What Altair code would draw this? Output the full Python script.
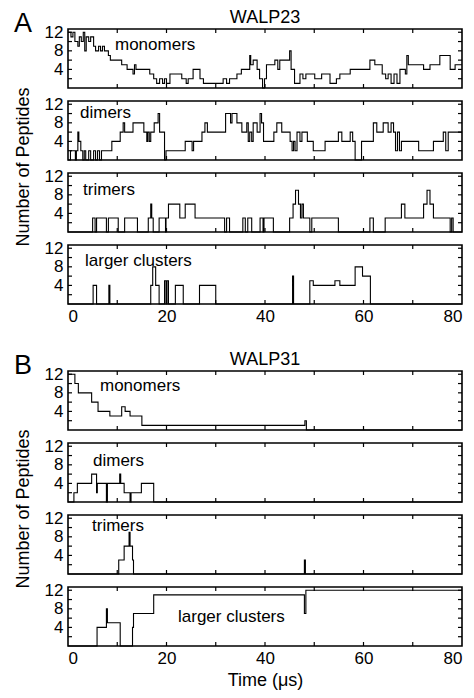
import altair as alt
import pandas as pd

# ---------------- data ----------------
TIME_TICKS = [10, 20, 30, 40, 50, 60, 70]
VALUE_TICKS = [2, 4, 6, 8, 10, 12]
X_LABELS = [0, 20, 40, 60, 80]
Y_LABELS = [4, 8, 12]

# WALP23
A_MONO_T = [0, 0.6, 1.0, 1.4, 2.0, 2.3, 2.7, 3.1, 3.4, 3.7, 4.2, 4.6, 5.2, 5.6, 6.2, 6.6, 7.0, 7.4, 8.2, 8.6,
            10.9, 12.0, 13.2, 13.5, 13.8, 16.6, 17.4, 18.0, 18.6, 19.2, 19.6, 20.0, 20.7, 23.1, 24.0, 24.4,
            25.4, 26.8, 27.5, 31.5, 32.2, 32.8, 34.3, 35.2, 36.9, 37.1, 37.6, 38.4, 38.9, 39.5, 39.9, 40.3,
            42.0, 42.6, 43.0, 45.0, 45.3, 46.0, 47.1, 47.7, 48.3, 50.1, 51.5, 53.2, 54.5, 55.2, 57.3, 61.3,
            62.3, 63.8, 64.5, 65.0, 65.6, 66.2, 66.8, 67.4, 68.5, 68.8, 69.1, 72.2, 73.5, 75.5, 77.6, 78.6, 80]
A_MONO_V = [12, 11, 12, 10, 9, 11, 10, 12, 8, 11, 10, 11, 9, 8, 9, 8, 9, 8, 7, 6,
            5, 4, 3, 5, 4, 3, 2, 1, 2, 1, 2, 1, 3, 2, 1, 2,
            4, 2, 1, 2, 1, 2, 3, 4, 7, 5, 6, 4, 2, 0, 2, 5,
            6, 4, 6, 8, 4, 1, 3, 2, 3, 2, 3, 1, 2, 3, 4, 6,
            5, 3, 2, 3, 1, 3, 1, 4, 3, 7, 5, 4, 5, 7, 4, 5, 5]

A_DIM_T = [0, 0.5, 1.2, 1.5, 1.7, 2.0, 2.2, 2.6, 3.0, 3.3, 3.6, 4.2, 4.6, 5.2, 5.6, 6.0, 6.4, 6.8, 8.9, 10.6,
           11.2, 11.5, 13.2, 15.4, 16.0, 16.2, 16.5, 16.8, 17.5, 18.3, 18.6, 19.6, 19.9, 23.8, 25.2, 25.5,
           27.2, 27.8, 28.3, 32.0, 33.0, 33.3, 34.3, 35.3, 36.3, 36.6, 36.9, 37.3, 37.6, 38.4, 39.0, 39.3,
           39.7, 41.8, 42.4, 43.4, 45.1, 45.5, 45.8, 46.1, 46.5, 47.1, 47.5, 48.6, 49.8, 52.2, 54.9, 55.6,
           57.3, 57.8, 58.3, 59.6, 62.0, 62.7, 64.0, 65.0, 65.6, 66.1, 66.5, 66.9, 67.3, 67.7, 71.2, 74.2,
           76.2, 76.7, 77.2, 80]
A_DIM_V = [0, 2, 2, 0, 2, 6, 4, 2, 0, 2, 0, 2, 0, 2, 0, 2, 0, 2, 4, 6,
           8, 6, 8, 6, 4, 6, 4, 6, 8, 10, 6, 0, 2, 4, 2, 4,
           6, 8, 6, 10, 8, 10, 8, 6, 8, 4, 6, 4, 8, 6, 10, 8,
           4, 6, 8, 6, 4, 2, 4, 2, 6, 4, 6, 4, 2, 4, 6, 4,
           6, 4, 0, 4, 8, 6, 8, 6, 8, 6, 2, 6, 2, 4, 2, 4,
           6, 2, 6, 6]

A_TRI_T = [0, 5.0, 5.5, 5.8, 7.8, 8.2, 10.2, 11.5, 14.1, 16.3, 16.8, 17.0, 17.3, 18.5, 19.8, 19.9, 20.4,
           22.7, 23.8, 25.8, 31.8, 32.2, 32.8, 35.5, 36.0, 36.5, 37.3, 39.0, 39.6, 39.8, 41.7, 45.0, 45.7,
           46.2, 46.8, 47.2, 47.5, 47.8, 49.1, 49.5, 54.9, 61.3, 62.0, 64.4, 67.7, 68.4, 72.2, 72.9, 73.5,
           74.2, 77.6, 77.9, 78.2, 80]
A_TRI_V = [0, 3, 0, 3, 0, 3, 0, 3, 0, 3, 6, 3, 0, 3, 0, 3, 6,
           3, 6, 3, 0, 3, 0, 3, 0, 3, 0, 3, 0, 3, 0, 3, 6,
           9, 6, 3, 6, 3, 0, 3, 0, 3, 0, 3, 6, 3, 6, 9, 6,
           3, 0, 3, 0, 0]

A_LRG_T = [0, 5.1, 5.8, 8.3, 8.5, 16.8, 17.2, 17.8, 18.5, 19.6, 19.9, 20.1, 20.4, 21.8, 23.4, 26.7, 30.0,
           45.6, 45.8, 49.1, 49.8, 54.2, 55.2, 58.3, 59.8, 61.4, 80]
A_LRG_V = [0, 4, 0, 4, 0, 4, 8, 4, 0, 5, 0, 5, 0, 4, 0, 4, 0,
           6, 0, 5, 4, 5, 4, 8, 6, 0, 0]

# WALP31
B_MONO_T = [0, 1.4, 2.1, 4.8, 6.1, 8.5, 10.9, 11.6, 12.6, 15.0, 48.1, 48.4, 80]
B_MONO_V = [12, 10, 8, 6, 4, 3, 5, 4, 3, 1, 2, 0, 0]

B_DIM_T = [0, 1.2, 1.9, 4.8, 5.8, 5.95, 7.8, 8.0, 10.5, 10.7, 11.4, 12.6, 12.8, 14.9, 17.4, 80]
B_DIM_V = [0, 2, 4, 6, 2, 4, 0, 4, 6, 4, 2, 0, 2, 4, 0, 0]

B_TRI_T = [0, 10.3, 11.4, 12.4, 12.6, 13.1, 13.3, 48.0, 48.2, 80]
B_TRI_V = [0, 3, 6, 9, 6, 3, 0, 3, 0, 0]

B_LRG_T = [0, 5.9, 7.8, 8.0, 10.6, 13.1, 13.3, 17.4, 48.0, 48.3, 80]
B_LRG_V = [0, 4, 8, 5, 0, 4, 7, 11, 7, 12, 12]

# ---------------- layout ----------------
W, H = 394, 59
YMAX = 12.7
FONT = "Liberation Sans"
TICK_LEN = 4
GAP = 13
GROUP_H = 4 * H + 3 * GAP
SPACER_H = 67 - 2 * GAP


def x_axis(labels, title):
    kw = dict(values=X_LABELS, labels=labels, ticks=False, domain=False, grid=False,
              labelFontSize=17, labelFont=FONT, labelColor="black", labelPadding=4,
              titleFontSize=18, titleFont=FONT, titleFontWeight="normal", titleColor="black",
              titlePadding=5)
    return alt.Axis(title=title, **kw) if title else alt.Axis(title=None, **kw)


def y_axis(with_title):
    kw = dict(values=Y_LABELS, ticks=False, domain=False, grid=False, labelFontSize=17,
              labelFont=FONT, labelColor="black", labelPadding=5)
    if with_title:
        return alt.Axis(title="Number of Peptides", titleY=GROUP_H / 2 - (H + GAP),
                        titleFontSize=18, titleFont=FONT, titleFontWeight="normal",
                        titleColor="black", titlePadding=12, **kw)
    return alt.Axis(title=None, **kw)


def text_layer(s, x, y, size, align="left"):
    return alt.Chart(pd.DataFrame({"s": [s]})).mark_text(
        align=align, baseline="middle", fontSize=size, font=FONT, color="black").encode(
        x=alt.value(x), y=alt.value(y), text="s:N")


def panel(t, v, label, lx, ly, xlabels=False, xtitle=None, ytitle=False, title=None, letter=None):
    xa = x_axis(xlabels, xtitle)
    ya = y_axis(ytitle)
    xs = alt.Scale(domain=[0, 80], nice=False, zero=False)
    ys = alt.Scale(domain=[0, YMAX], nice=False)

    def X(f):
        return alt.X(f + ":Q", scale=xs, axis=xa)

    def Y(f):
        return alt.Y(f + ":Q", scale=ys, axis=ya)

    df = pd.DataFrame({"t": t, "v": v})
    line = alt.Chart(df).mark_line(interpolate="step-after", color="black", strokeWidth=1.1).encode(
        x=X("t"), y=Y("v"))

    xt = pd.DataFrame({"t": TIME_TICKS})
    yt = pd.DataFrame({"v": VALUE_TICKS})
    rule = dict(color="black", strokeWidth=1.2)
    top_t = alt.Chart(xt).mark_rule(**rule).encode(x=X("t"), y=alt.value(0), y2=alt.value(TICK_LEN))
    bot_t = alt.Chart(xt).mark_rule(**rule).encode(x=X("t"), y=alt.value(H - TICK_LEN), y2=alt.value(H))
    left_t = alt.Chart(yt).mark_rule(**rule).encode(y=Y("v"), x=alt.value(0), x2=alt.value(TICK_LEN))
    right_t = alt.Chart(yt).mark_rule(**rule).encode(y=Y("v"), x=alt.value(W - TICK_LEN), x2=alt.value(W))

    layers = [line, top_t, bot_t, left_t, right_t, text_layer(label, lx, ly, 17)]
    if title:
        layers.append(text_layer(title, W / 2, -11, 18, align="center"))
    if letter:
        layers.append(text_layer(letter, -45, -5, 27, align="center"))

    return alt.layer(*layers).properties(width=W, height=H)


spacer = alt.Chart(pd.DataFrame({"s": [""]})).mark_text(opacity=0).encode(
    x=alt.value(0), y=alt.value(0), text="s:N"
).properties(width=W, height=SPACER_H, view=alt.ViewBackground(stroke="transparent"))

chart = alt.vconcat(
    panel(A_MONO_T, A_MONO_V, "monomers", 47, 16, title="WALP23", letter="A"),
    panel(A_DIM_T, A_DIM_V, "dimers", 12, 12, ytitle=True),
    panel(A_TRI_T, A_TRI_V, "trimers", 15, 17),
    panel(A_LRG_T, A_LRG_V, "larger clusters", 17, 16, xlabels=True),
    spacer,
    panel(B_MONO_T, B_MONO_V, "monomers", 32, 15, title="WALP31", letter="B"),
    panel(B_DIM_T, B_DIM_V, "dimers", 25, 18, ytitle=True),
    panel(B_TRI_T, B_TRI_V, "trimers", 24, 11),
    panel(B_LRG_T, B_LRG_V, "larger clusters", 110, 30, xlabels=True, xtitle="Time (μs)"),
    spacing=GAP, bounds="flush"
).properties(
    padding={"left": 5, "top": 0, "right": 0, "bottom": 0}
).configure_view(stroke="black", strokeWidth=1.6)

chart.save("out.html", embed_options={"renderer": "svg", "actions": False})
